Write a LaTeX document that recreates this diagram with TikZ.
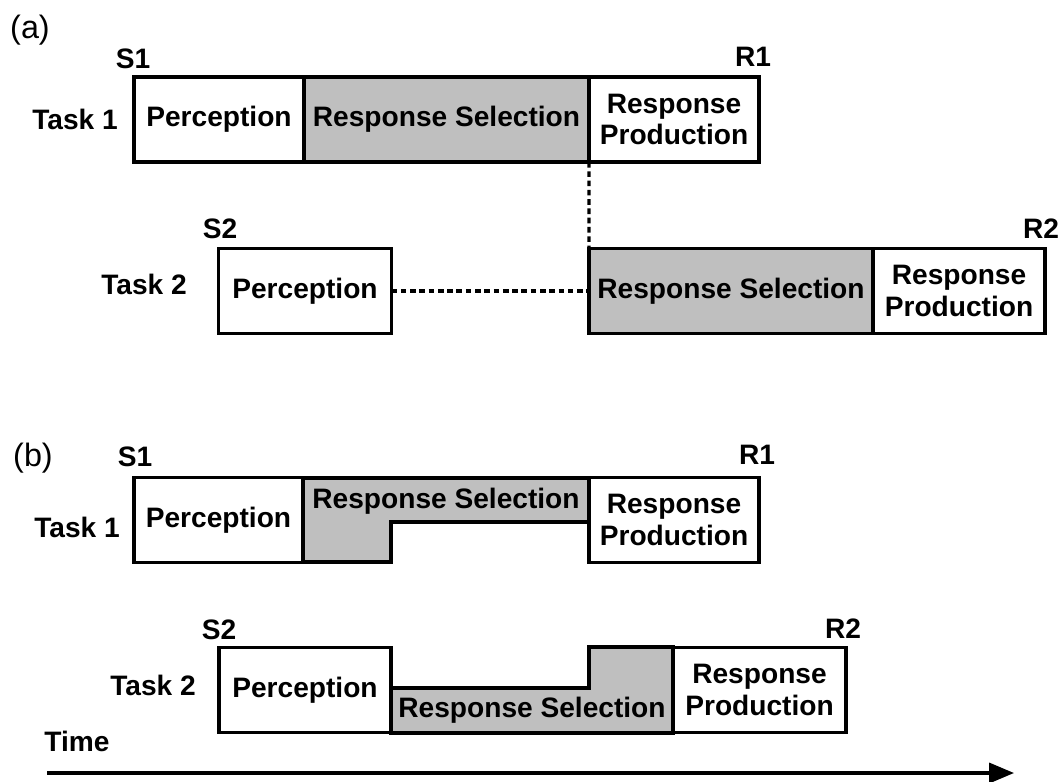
\documentclass[tikz,border=0pt]{standalone}
\usepackage{fontspec}
\setmainfont{Liberation Sans}
\usetikzlibrary{arrows.meta,positioning}
\newcommand{\phasebox}[5]{%
    \node[phase, minimum width=#3, #2] (#1) at #4 {#5};%
}

\begin{document}
\begin{tikzpicture}[
        x=0.025cm,
        y=-0.025cm,
        txt/.style={font=\fontsize{20}{22.5}\selectfont\bfseries, inner sep=0pt, align=center},
        phase/.style={txt, draw, line width=2.5pt, minimum height=2.125cm, outer sep=0pt, fill=white},
        busy/.style={fill=black!25},
        stepbox/.style={draw, line width=2.5pt, line join=miter, fill=black!25},
        wait/.style={line width=2.3pt, dash pattern=on 4pt off 2.6pt},
        tag/.style={font=\fontsize{23}{25}\selectfont, inner sep=0pt},
        timeline/.style={-{Triangle[length=0.62cm, width=0.5cm]}, line width=2.3pt}
    ]
        \useasboundingbox (0,0) rectangle (1062,781);

        % === (a) BOTTLENECK ===
        \node[tag] (tagA) at (30,30) {(a)};
        % Task 1
        \node[txt] (task1A) at (75,119) {Task 1};
        \phasebox{per1A}{}{4.25cm}{(219,119.5)}{Perception}
        \phasebox{sel1A}{busy}{7.125cm}{(446.5,119.5)}{Response Selection}
        \phasebox{pro1A}{}{4.25cm}{(674,119.5)}{Response\\Production}
        \node[txt] (s1A) at (133,59) {S1};
        \node[txt] (r1A) at (753,57) {R1};
        % Task 2
        \node[txt] (task2A) at (144,284) {Task 2};
        \phasebox{per2A}{}{4.325cm}{(305,291)}{Perception}
        \phasebox{sel2A}{busy}{7.1cm}{(731,291)}{Response Selection}
        \phasebox{pro2A}{}{4.3cm}{(959,291)}{Response\\Production}
        \node[txt] (s2A) at (220,229) {S2};
        \node[txt] (r2A) at (1041,229) {R2};
        % waiting
        \draw[wait] (sel1A.south east) -- (sel2A.north west);
        \draw[wait] (per2A.east) -- (sel2A.west);

        % === (b) CAPACITY SHARING ===
        \node[tag] (tagB) at (33,458) {(b)};
        % Task 1
        \node[txt] (task1B) at (77,527) {Task 1};
        \phasebox{per1B}{}{4.225cm}{(218.5,520)}{Perception}
        \draw[stepbox] (303,478) -- (589,478) -- (589,522) -- (391,522)
            -- (391,562) -- (303,562) -- cycle;
        \node[txt] (sel1B) at (446,501) {Response Selection};
        \phasebox{pro1B}{}{4.25cm}{(674,520)}{Response\\Production}
        \node[txt] (s1B) at (135,457) {S1};
        \node[txt] (r1B) at (757,455) {R1};
        % Task 2
        \node[txt] (task2B) at (153,685) {Task 2};
        \phasebox{per2B}{}{4.3cm}{(305,690)}{Perception}
        \draw[stepbox] (391,688) -- (589,688) -- (589,647) -- (673,647)
            -- (673,733) -- (391,733) -- cycle;
        \node[txt] (sel2B) at (532,710) {Response Selection};
        \phasebox{pro2B}{}{4.325cm}{(759.5,690)}{Response\\Production}
        \node[txt] (s2B) at (219,630) {S2};
        \node[txt] (r2B) at (843,629) {R2};

        % === TIME AXIS ===
        \node[txt] (time) at (77,741) {Time};
        \coordinate (t0) at (47,773);
        \coordinate (t1) at (1014,773);
        \draw[timeline] (t0) -- (t1);
    \end{tikzpicture}
\end{document}
